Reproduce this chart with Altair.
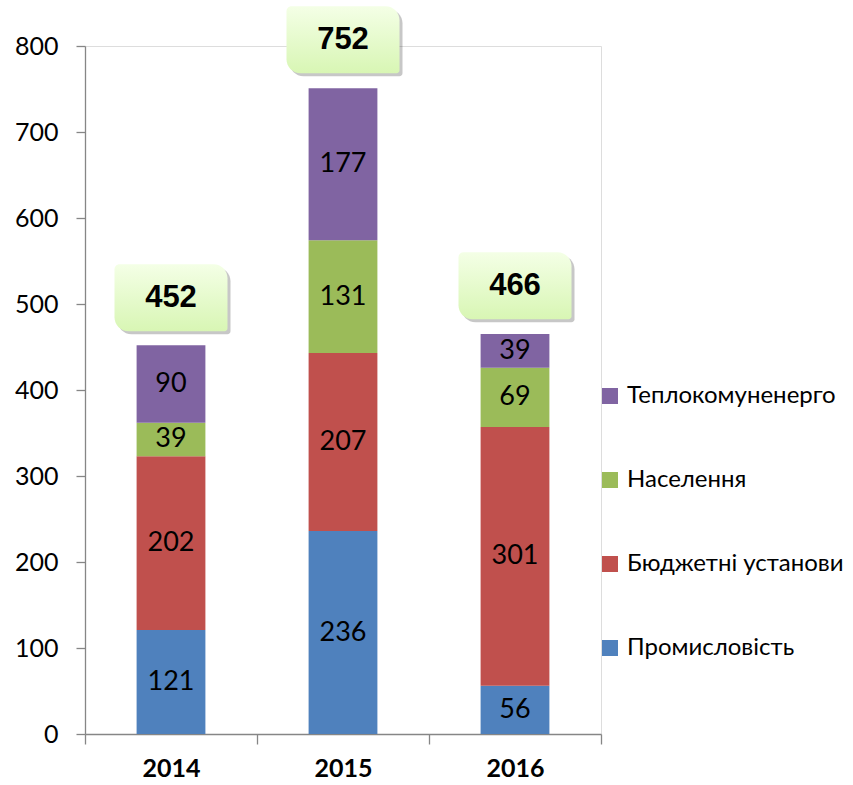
import altair as alt
import pandas as pd

years = ["2014", "2015", "2016"]
series = ["Промисловість", "Бюджетні установи", "Населення", "Теплокомуненерго"]
industry = [121, 236, 56]
budget = [202, 207, 301]
population = [39, 131, 69]
heat = [90, 177, 39]
totals = [452, 752, 466]
colors = ["#4F81BD", "#C0504D", "#9BBB59", "#8064A2"]

rows = []
for i, y in enumerate(years):
    for k, (name, vals) in enumerate(zip(series, [industry, budget, population, heat])):
        rows.append({"year": y, "series": name, "value": vals[i], "order": k})
df = pd.DataFrame(rows)
tot = pd.DataFrame({"year": years, "total": totals})

FONT = "Lato"
AX = "#868686"

x_enc = alt.X("year:N", title=None, sort=years,
              scale=alt.Scale(paddingInner=0, paddingOuter=0),
              axis=alt.Axis(labelFont=FONT, labelFontSize=25, labelFontWeight="bold",
                            labelColor="#000", labelAngle=0, labelPadding=12,
                            tickBand="extent", tickSize=10, tickColor=AX, tickWidth=1.3,
                            domainColor=AX, domainWidth=1.3))
y_scale = alt.Scale(domain=[0, 800], nice=False)

bars = alt.Chart(df).mark_bar(width=alt.RelativeBandSize(0.4)).encode(
    x=x_enc,
    y=alt.Y("value:Q", stack="zero", scale=y_scale, title=None,
            axis=alt.Axis(values=[0, 100, 200, 300, 400, 500, 600, 700, 800],
                          labelFont=FONT, labelFontSize=25, labelColor="#000",
                          labelPadding=18, tickSize=9, tickColor=AX, tickWidth=1.3,
                          domainColor=AX, domainWidth=1.3, grid=False)),
    color=alt.Color("series:N",
                    scale=alt.Scale(domain=series[::-1], range=colors[::-1]),
                    legend=alt.Legend(title=None, orient="none", legendX=513, legendY=338,
                                      symbolType="square", symbolSize=256, symbolStrokeWidth=0,
                                      labelFont=FONT, labelFontSize=24, labelColor="#000",
                                      labelOffset=5, rowPadding=60, labelLimit=400)),
    order=alt.Order("order:Q", sort="ascending"),
)

seg_text = alt.Chart(df).transform_stack(
    stack="value", groupby=["year"], as_=["y0", "y1"],
    sort=[alt.SortField("order", order="ascending")]
).transform_calculate(mid="(datum.y0 + datum.y1) / 2").mark_text(
    font=FONT, fontSize=27, color="#000", baseline="middle"
).encode(x=alt.X("year:N", sort=years), y=alt.Y("mid:Q", scale=y_scale), text="value:Q")

grad = alt.LinearGradient(gradient="linear", x1=0, x2=0, y1=0, y2=1,
                          stops=[alt.GradientStop(color="#f4ffe6", offset=0),
                                 alt.GradientStop(color="#d8f6b4", offset=1)])
corner = dict(cornerRadiusTopLeft=5, cornerRadiusTopRight=14,
              cornerRadiusBottomLeft=14, cornerRadiusBottomRight=3)

shadow = alt.Chart(tot).mark_rect(width=113, yOffset=-78, y2Offset=-11, xOffset=3,
                                  fill="#000", opacity=0.22, **corner).encode(
    x=alt.X("year:N", sort=years), y=alt.Y("total:Q", scale=y_scale), y2="total:Q")
box = alt.Chart(tot).mark_rect(width=113, yOffset=-81, y2Offset=-14, fill=grad, **corner).encode(
    x=alt.X("year:N", sort=years), y=alt.Y("total:Q", scale=y_scale), y2="total:Q")
tot_text = alt.Chart(tot).mark_text(font="Liberation Sans", fontSize=31, fontWeight="bold",
                                    color="#000", baseline="middle", dy=-47).encode(
    x=alt.X("year:N", sort=years), y=alt.Y("total:Q", scale=y_scale), text="total:Q")

chart = alt.layer(bars, seg_text, shadow, box, tot_text).properties(
    width=516, height=688,
    autosize=alt.AutoSizeParams(type="none"),
    padding={"left": 85, "top": 46, "right": 252, "bottom": 51},
).configure_view(stroke=None).configure(background="white")

chart.save("out.html", embed_options={"renderer": "svg", "actions": False})
